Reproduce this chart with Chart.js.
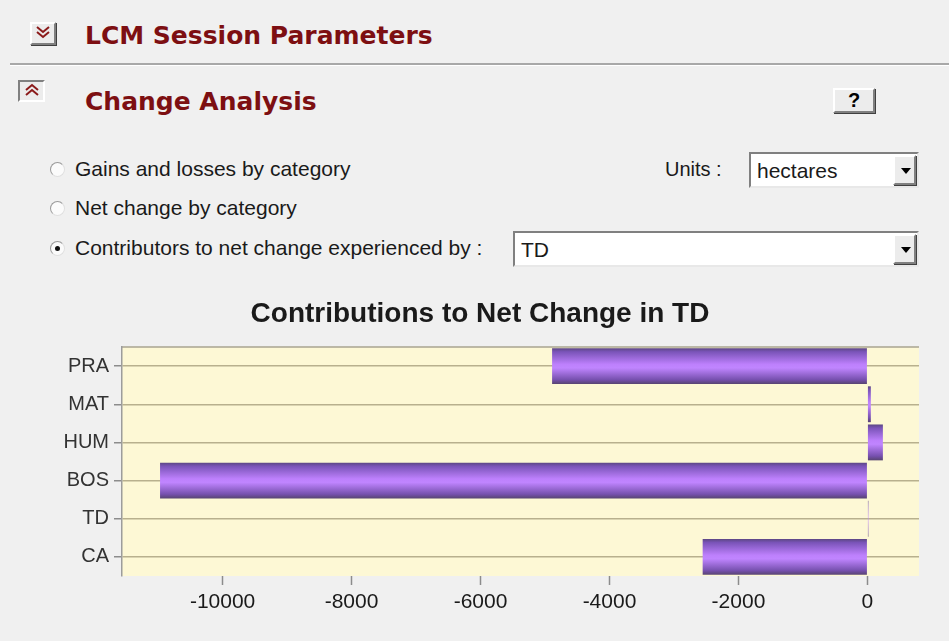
<!DOCTYPE html>
<html>
<head>
<meta charset="utf-8">
<script src="https://cdn.jsdelivr.net/npm/chart.js@4/dist/chart.umd.min.js"></script>
<style>
  body { margin: 0; background: #f0f0f0; width: 949px; height: 641px; overflow: hidden; position: relative; font-family: "Liberation Sans", Arial, sans-serif; }
  .abs { position: absolute; }
  .raised { background: #ececec; border-top: 2px solid #ffffff; border-left: 2px solid #ffffff; border-right: 2px solid #808080; border-bottom: 2px solid #808080; box-shadow: 1px 1px 0 #404040; box-sizing: border-box; }
  .sunken { background: #ececec; border-top: 2px solid #808080; border-left: 2px solid #808080; border-right: 2px solid #ffffff; border-bottom: 2px solid #ffffff; box-sizing: border-box; }
  .head { font-family: "DejaVu Sans", Verdana, sans-serif; font-weight: bold; color: #7d0f12; font-size: 25px; }
  .txt { font-size: 21px; color: #1a1a1a; white-space: nowrap; }
  .radio { width: 15px; height: 15px; border-radius: 50%; background: #fbfbfb; border: 1px solid #9a9a9a; border-right-color: #e0e0e0; border-bottom-color: #e0e0e0; box-sizing: border-box; }
  .dot { position: absolute; left: 4px; top: 4px; width: 5px; height: 5px; border-radius: 50%; background: #111; }
  .combo { background: #fff; border-top: 2px solid #808080; border-left: 2px solid #808080; border-right: 2px solid #e8e8e8; border-bottom: 2px solid #e8e8e8; box-sizing: border-box; }
  .drop { position: absolute; right: 1px; top: 1px; bottom: 1px; width: 23px; }
  .tri { position: absolute; left: 6px; top: 11px; width: 0; height: 0; border-left: 5px solid transparent; border-right: 5px solid transparent; border-top: 6px solid #000; }
  #chartBox { position: absolute; left: 0; top: 290px; width: 949px; height: 340px; }
</style>
</head>
<body>

<div class="abs raised" style="left:30px;top:22px;width:26px;height:23px;">
  <svg width="22" height="19" style="position:absolute;left:0;top:0">
    <polyline points="5,3 11,8 17,3" fill="none" stroke="#8b1a1a" stroke-width="2"/>
    <polyline points="5,8 11,13 17,8" fill="none" stroke="#8b1a1a" stroke-width="2"/>
  </svg>
</div>
<div class="abs head" style="left:85px;top:21px;">LCM Session Parameters</div>
<div class="abs" style="left:10px;top:63px;width:939px;height:2px;background:#a8a8a8;border-bottom:1px solid #fff;"></div>

<div class="abs sunken" style="left:18px;top:80px;width:27px;height:22px;">
  <svg width="23" height="18" style="position:absolute;left:0;top:0">
    <polyline points="6,8 12,3 18,8" fill="none" stroke="#8b1a1a" stroke-width="2"/>
    <polyline points="6,13 12,8 18,13" fill="none" stroke="#8b1a1a" stroke-width="2"/>
  </svg>
</div>
<div class="abs head" style="left:85px;top:87px;">Change Analysis</div>
<div class="abs raised" style="left:833px;top:88px;width:42px;height:25px;font-weight:bold;font-size:20px;text-align:center;line-height:21px;">?</div>

<div class="abs radio" style="left:50px;top:162px;"></div>
<div class="abs txt" style="left:75px;top:157px;">Gains and losses by category</div>
<div class="abs radio" style="left:50px;top:201px;"></div>
<div class="abs txt" style="left:75px;top:196px;">Net change by category</div>
<div class="abs radio" style="left:50px;top:241px;"><div class="dot"></div></div>
<div class="abs txt" style="left:75px;top:236px;">Contributors to net change experienced by :</div>

<div class="abs txt" style="left:665px;top:158px;font-size:20px;">Units :</div>
<div class="abs combo" style="left:749px;top:152px;width:170px;height:36px;">
  <div class="abs txt" style="left:6px;top:5px;">hectares</div>
  <div class="drop raised"><div class="tri"></div></div>
</div>
<div class="abs combo" style="left:513px;top:231px;width:406px;height:36px;">
  <div class="abs txt" style="left:6px;top:5px;">TD</div>
  <div class="drop raised"><div class="tri"></div></div>
</div>

<div id="chartBox"><canvas id="netChart"></canvas></div>

<script>
// contributions to net change in TD, hectares
const categories = ['PRA', 'MAT', 'HUM', 'BOS', 'TD', 'CA'];
const netChange = [-4890, 53, 240, -10970, 15, -2555];
const xTickValues = [-10000, -8000, -6000, -4000, -2000, 0];
const xMin = -11560;
const xMax = 800;

function barFill(ctx) {
    const chart = ctx.chart;
    const yScale = chart.scales.y;
    if (!chart.chartArea || !yScale || ctx.dataIndex === undefined) return '#9c6ee0';
    const cy = yScale.getPixelForValue(ctx.dataIndex);
    const half = yScale.height / categories.length * 0.94 / 2;
    const g = chart.ctx.createLinearGradient(0, cy - half, 0, cy + half);
    g.addColorStop(0, '#5c4783');
    g.addColorStop(0.1, '#7a54b8');
    g.addColorStop(0.45, '#bd80fc');
    g.addColorStop(0.55, '#c085ff');
    g.addColorStop(0.88, '#7650ae');
    g.addColorStop(1, '#574470');
    return g;
}

// yellow plot background and top border line
const plotBackground = {
    id: 'plotBackground',
    beforeDraw(chart) {
        const a = chart.chartArea;
        const c = chart.ctx;
        c.save();
        c.fillStyle = '#fdf8d5';
        c.fillRect(a.left, a.top, a.right - a.left, a.bottom - a.top);
        c.strokeStyle = '#a8a490';
        c.lineWidth = 1.5;
        c.beginPath();
        c.moveTo(a.left, a.top);
        c.lineTo(a.right, a.top);
        c.stroke();
        c.restore();
    }
};

new Chart(document.getElementById('netChart'), {
    type: 'bar',
    data: {
        labels: categories,
        datasets: [{
            data: netChange,
            backgroundColor: barFill,
            borderWidth: 0,
            barPercentage: 0.94,
            categoryPercentage: 1
        }]
    },
    options: {
        indexAxis: 'y',
        responsive: true,
        maintainAspectRatio: false,
        animation: false,
        layout: { padding: { left: 41, right: 30, top: 0, bottom: 0 } },
        plugins: {
            legend: { display: false },
            tooltip: { enabled: false },
            title: {
                display: true,
                text: 'Contributions to Net Change in TD',
                color: '#1a1a1a',
                font: { family: "'Liberation Sans', Arial, sans-serif", size: 28, weight: 'bold' },
                padding: { top: 7, bottom: 16.4 }
            }
        },
        scales: {
            x: {
                min: xMin,
                max: xMax,
                afterBuildTicks(scale) {
                    scale.ticks = xTickValues.map(v => ({ value: v }));
                },
                ticks: {
                    color: '#1a1a1a',
                    padding: 5,
                    font: { family: "'Liberation Sans', Arial, sans-serif", size: 21 },
                    callback: v => String(v)
                },
                grid: { drawOnChartArea: false, tickLength: 9, color: '#8c8c8c', tickWidth: 1.5 },
                border: { display: false },
                afterFit(scale) { scale.height = 54; }
            },
            y: {
                ticks: {
                    color: '#333333',
                    padding: 5,
                    font: { family: "'Liberation Sans', Arial, sans-serif", size: 20 }
                },
                grid: { offset: false, color: '#b8b08e', lineWidth: 1.5, tickLength: 8, tickColor: '#8c8c8c' },
                border: { color: '#9c9c9c', width: 1.5 },
                afterFit(scale) { scale.width = 81; }
            }
        }
    },
    plugins: [plotBackground]
});
</script>
</body>
</html>
